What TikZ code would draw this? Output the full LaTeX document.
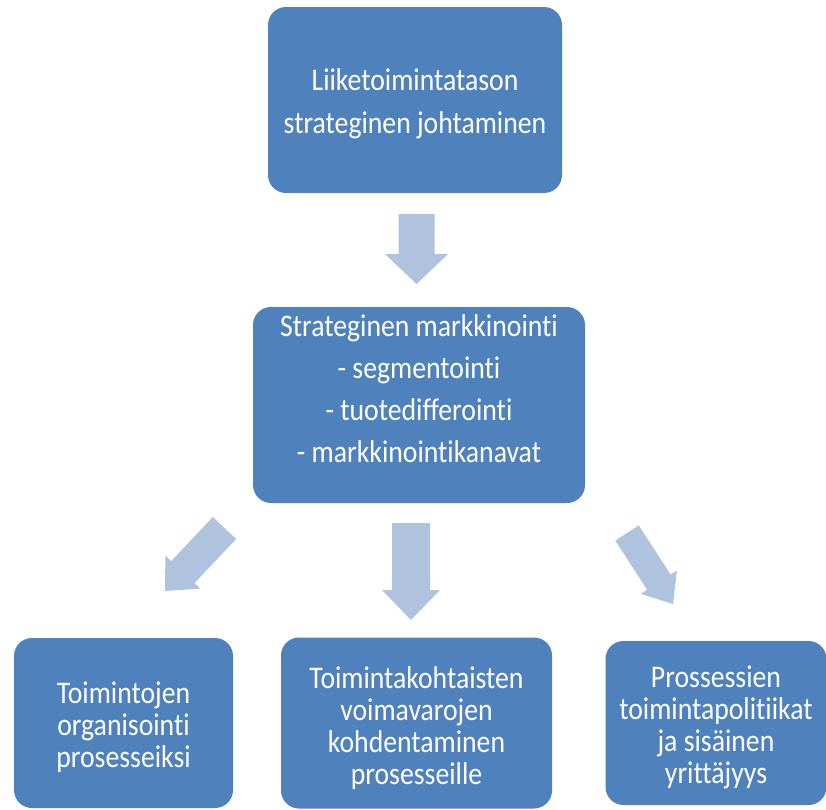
\documentclass[tikz,border=0pt]{standalone}
\usepackage{fontspec}
\usetikzlibrary{calc}
\newfontfamily\boxfont[FakeStretch=0.88,Ligatures=NoCommon]{Carlito}
\definecolor{boxblue}{HTML}{4F81BD}
\definecolor{arrowblue}{HTML}{B0C3DE}
\tikzset{
  box/.style={fill=boxblue, draw=none, rounded corners=18pt, inner sep=0pt},
  boxtext/.style={text=white, align=center, inner sep=0pt,
    font=\boxfont\fontsize{31.5}{43}\selectfont},
  midtext/.style={boxtext, font=\boxfont\fontsize{31.5}{42}\selectfont},
  smalltext/.style={boxtext, font=\boxfont\fontsize{31.5}{32}\selectfont},
  arrowfill/.style={fill=arrowblue, draw=none}
}
% #1 tail, #2 tip, #3 shaft half width, #4 head half width, #5 head length
\newcommand\blockarrow[5]{%
  \coordinate (H) at ($(#2)!#5!(#1)$);
  \fill[arrowfill] ($(#1)!#3!90:(#2)$) -- ($(H)!#3!-90:(#1)$) -- ($(H)!#4!-90:(#1)$)
    -- (#2) -- ($(H)!#4!90:(#1)$) -- ($(H)!#3!90:(#1)$) -- ($(#1)!#3!-90:(#2)$) -- cycle;
}
\begin{document}
\begin{tikzpicture}[x=1pt,y=-1pt]
\useasboundingbox (0,0) rectangle (826,809);
\node[box, minimum width=294pt, minimum height=186pt] (top) at (415,100) {};
\node[boxtext] (toptext) at (415,104)
  {Liiketoimintatason\\strateginen johtaminen};
\node[box, minimum width=332pt, minimum height=196pt] (mid) at (419,405) {};
\node[midtext] (midtext) at (419,389)
  {Strateginen markkinointi\\- segmentointi\\- tuotedifferointi\\- markkinointikanavat};
\node[box, minimum width=219pt, minimum height=170pt] (bl) at (123.5,723) {};
\node[smalltext] (bltext) at (123.5,727)
  {Toimintojen\\organisointi\\prosesseiksi};
\node[box, minimum width=271pt, minimum height=171pt] (bm) at (416.5,723) {};
\node[smalltext] (bmtext) at (416.5,728)
  {Toimintakohtaisten\\voimavarojen\\kohdentaminen\\prosesseille};
\node[box, minimum width=221pt, minimum height=164pt] (br) at (716,723) {};
\node[smalltext] (brtext) at (716,727.5)
  {Prossessien\\toimintapolitiikat\\ja sisäinen\\yrittäjyys};
\coordinate (a1s) at (416.5,214);
\coordinate (a1e) at (416.5,284);
\blockarrow{a1s}{a1e}{18pt}{31.5pt}{30pt}
\coordinate (a2s) at (411,523);
\coordinate (a2e) at (411,620);
\blockarrow{a2s}{a2e}{19pt}{29pt}{30pt}
\coordinate (a3s) at (224.5,528);
\coordinate (a3e) at (165,591);
\blockarrow{a3s}{a3e}{16pt}{24pt}{26pt}
\coordinate (a4s) at (627,533);
\coordinate (a4e) at (673,604);
\blockarrow{a4s}{a4e}{14pt}{21.5pt}{26pt}
\end{tikzpicture}
\end{document}
